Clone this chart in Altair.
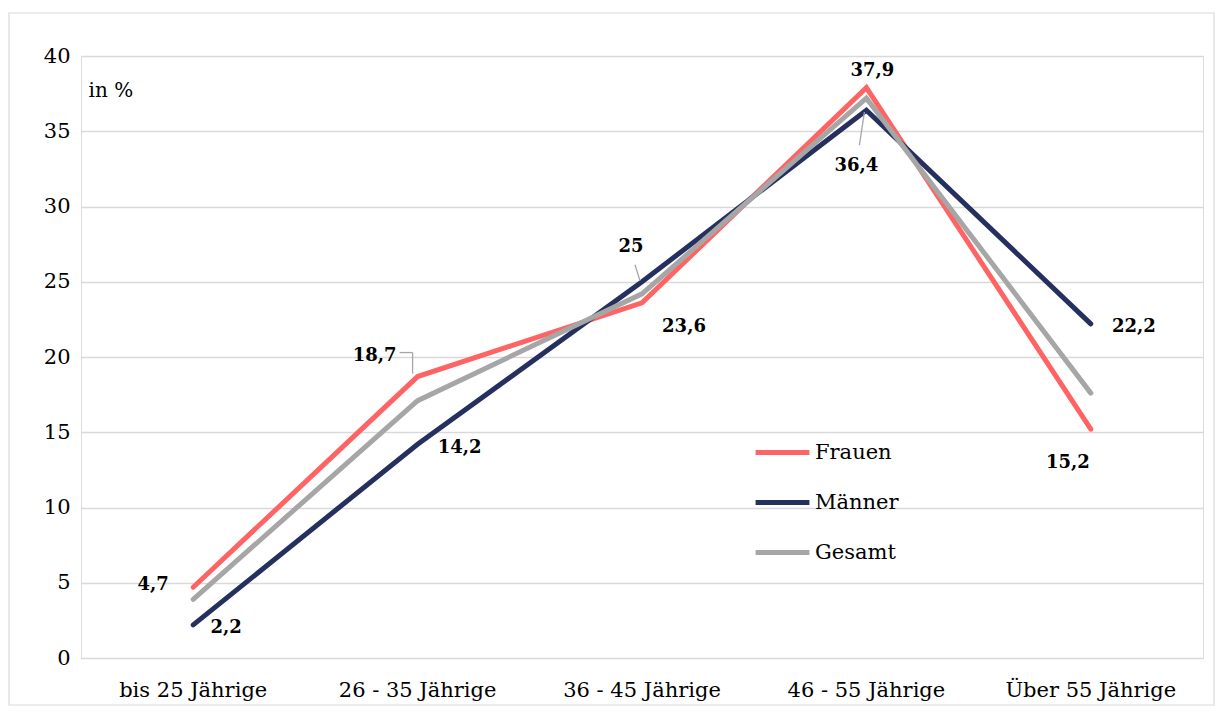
import altair as alt
import pandas as pd

categories = ["bis 25 Jährige", "26 - 35 Jährige", "36 - 45 Jährige",
              "46 - 55 Jährige", "Über 55 Jährige"]
frauen = [4.7, 18.7, 23.6, 37.9, 15.2]
maenner = [2.2, 14.2, 25.0, 36.4, 22.2]
gesamt = [3.9, 17.1, 24.2, 37.2, 17.6]
series = ["Frauen", "Männer", "Gesamt"]
colors = ["#FF6464", "#25305F", "#A6A6A6"]

rows = []
for s, vals in zip(series, [frauen, maenner, gesamt]):
    for i, (c, v) in enumerate(zip(categories, vals)):
        rows.append({"Kategorie": c, "Gruppe": s, "Wert": v, "idx": i})
df = pd.DataFrame(rows)

FONT = "DejaVu Serif"

x_enc = alt.X("Kategorie:N", sort=categories,
              scale=alt.Scale(paddingInner=0, paddingOuter=0),
              axis=alt.Axis(title=None, labelAngle=0, domain=False, ticks=False,
                            grid=False, labelFontSize=21, labelFont=FONT,
                            labelColor="#000000", labelPadding=21))
y_enc = alt.Y("Wert:Q", scale=alt.Scale(domain=[0, 40], nice=False),
              axis=alt.Axis(values=list(range(0, 41, 5)), domain=False, ticks=False,
                            gridColor="#D9D9D9", gridWidth=1.3, labelFontSize=21,
                            labelFont=FONT, labelColor="#000000", labelPadding=11,
                            title="in %", titleAngle=0, titleX=7, titleY=34,
                            titleAlign="left", titleBaseline="middle",
                            titleFont=FONT, titleFontSize=20,
                            titleFontWeight="normal", titleColor="#000000"))

lines = alt.Chart(df).mark_line(strokeWidth=5, strokeCap="round",
                                strokeJoin="miter").encode(
    x=x_enc,
    y=y_enc,
    color=alt.Color("Gruppe:N", sort=series,
                    scale=alt.Scale(domain=series, range=colors),
                    legend=alt.Legend(title=None, orient="none", legendX=672,
                                      legendY=367, symbolType="stroke",
                                      symbolSize=2900, symbolStrokeWidth=5,
                                      labelFont=FONT, labelFontSize=21,
                                      labelColor="#000000", rowPadding=10,
                                      labelOffset=3)),
    order=alt.Order("idx:Q"),
)

# data labels (Frauen & Männer) with pixel offsets
label_offsets = [
    ("Frauen", 0, -40, -2), ("Männer", 0, 33, 3),
    ("Frauen", 1, -43, -21), ("Männer", 1, 42, 4),
    ("Frauen", 2, 42, 24), ("Männer", 2, -11, -35),
    ("Frauen", 3, 6, -17), ("Männer", 3, -10, 56),
    ("Frauen", 4, -23, 34), ("Männer", 4, 43, 3),
]
layers = [lines]
for s, i, dx, dy in label_offsets:
    layers.append(
        alt.Chart(df).transform_filter(
            (alt.datum.Gruppe == s) & (alt.datum.idx == i)
        ).transform_calculate(
            lab="replace('' + datum.Wert, '.', ',')"
        ).mark_text(dx=dx, dy=dy, font=FONT, fontSize=18, fontWeight="bold",
                    color="#000000").encode(
            x=alt.X("Kategorie:N", sort=categories),
            y="Wert:Q",
            text="lab:N",
        )
    )

# leader lines
leaders = [
    ("Frauen", 1, -5, -3, -5, -24),
    ("Frauen", 1, -5, -24, -18, -24),
    ("Männer", 2, -2, -1, -7, -17),
    ("Männer", 3, -2, 2, -7, 35),
]
for s, i, x1, y1, x2, y2 in leaders:
    layers.append(
        alt.Chart(df).transform_filter(
            (alt.datum.Gruppe == s) & (alt.datum.idx == i)
        ).mark_rule(color="#A6A6A6", strokeWidth=1.3, xOffset=x1, yOffset=y1,
                    x2Offset=x2, y2Offset=y2).encode(
            x=alt.X("Kategorie:N", sort=categories),
            x2=alt.X2("Kategorie:N"),
            y="Wert:Q",
            y2=alt.Y2("Wert:Q"),
        )
    )

border = alt.Chart(pd.DataFrame({"a": [0]})).mark_rect(
    filled=False, stroke="#D9D9D9", strokeWidth=1.2).encode(
    x=alt.value(-72), x2=alt.value(1133), y=alt.value(-43), y2=alt.value(649))

chart = alt.layer(border, *layers).properties(
    width=1122, height=602, autosize="none",
    padding={"left": 73, "top": 48, "right": 12, "bottom": 50},
).configure_view(stroke=None).configure(background="#FFFFFF")

chart.save("out.html", embed_options={"renderer": "svg", "actions": False})
